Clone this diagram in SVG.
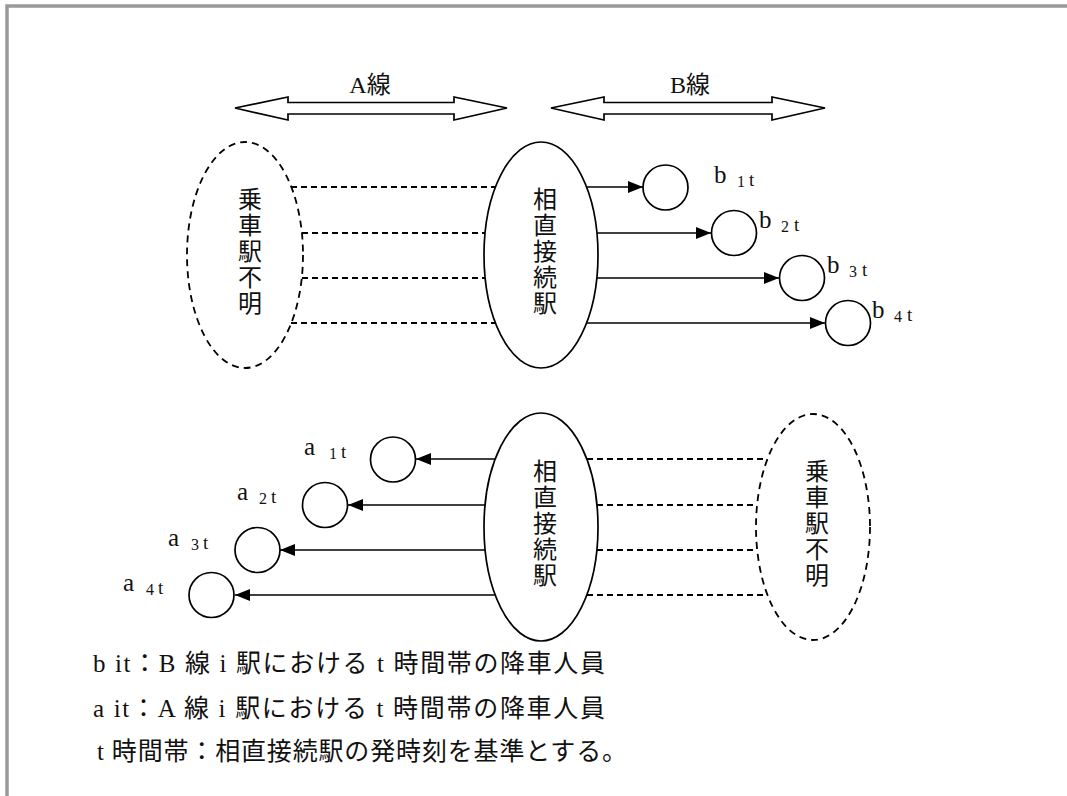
<svg xmlns="http://www.w3.org/2000/svg" width="1067" height="796" viewBox="0 0 1067 796">
<defs>
<style>
.bg{fill:#fff}
.frame{fill:none;stroke:#999;stroke-width:3.5}
.solid{fill:#fff;stroke:#000;stroke-width:1.7}
.dashell{fill:none;stroke:#000;stroke-width:1.8;stroke-dasharray:7,5}
.dash{stroke:#000;stroke-width:1.8;stroke-dasharray:6,4}
.arr{stroke:#000;stroke-width:1.7;fill:none}
.dbl{fill:#fff;stroke:#000;stroke-width:1.7;stroke-linejoin:miter}
.circ{fill:#fff;stroke:#000;stroke-width:1.7}
.jp{font-family:'Liberation Serif','Noto Sans CJK JP',serif;font-size:24px;fill:#111}
.lab{font-family:'Liberation Serif',serif;font-size:25px;fill:#111}
.sub{font-size:16px}
.tt{font-size:19px}
.leg{font-family:'Liberation Serif','Noto Sans CJK JP',serif;font-size:25px;fill:#111}
</style>
<marker id="ah" markerUnits="userSpaceOnUse" markerWidth="16" markerHeight="12" refX="15" refY="6" orient="auto">
<path d="M0,0 L15,6 L0,12 Z" fill="#000"/>
</marker>
</defs>
<rect class="bg" x="0" y="0" width="1067" height="796"/>
<path class="frame" d="M7,796 L7,6 L1067,6"/>

<g id="lineA">
<polygon class="dbl" points="235,108 288,97 288,102.5 454,102.5 454,97 507,108 454,120 454,114 288,114 288,120"/>
<text class="jp" x="370" y="93" text-anchor="middle">A線</text>
</g>
<g id="lineB">
<polygon class="dbl" points="551,108 604,97 604,102.5 772,102.5 772,97 825,108 772,120 772,114 604,114 604,120"/>
<text class="jp" x="690" y="93" text-anchor="middle">B線</text>
</g>

<g id="connectors">
<line class="dash" x1="291" y1="187" x2="496" y2="187"/>
<line class="dash" x1="302" y1="233" x2="485" y2="233"/>
<line class="dash" x1="302" y1="278" x2="485" y2="278"/>
<line class="dash" x1="291" y1="323" x2="496" y2="323"/>
<line class="arr" x1="586" y1="187" x2="643" y2="187" marker-end="url(#ah)"/>
<line class="arr" x1="597" y1="233" x2="711" y2="233" marker-end="url(#ah)"/>
<line class="arr" x1="597" y1="278" x2="779" y2="278" marker-end="url(#ah)"/>
<line class="arr" x1="586" y1="323" x2="825" y2="323" marker-end="url(#ah)"/>
<line class="dash" x1="587" y1="459" x2="767" y2="459"/>
<line class="dash" x1="597" y1="505" x2="757" y2="505"/>
<line class="dash" x1="597" y1="550" x2="757" y2="550"/>
<line class="dash" x1="587" y1="595" x2="767" y2="595"/>
<line class="arr" x1="495" y1="459" x2="416" y2="459" marker-end="url(#ah)"/>
<line class="arr" x1="485" y1="505" x2="348" y2="505" marker-end="url(#ah)"/>
<line class="arr" x1="485" y1="550" x2="280" y2="550" marker-end="url(#ah)"/>
<line class="arr" x1="495" y1="595" x2="235" y2="595" marker-end="url(#ah)"/>
</g>

<g id="unknownTop">
<ellipse class="dashell" cx="245" cy="255" rx="58" ry="113"/>
<text class="jp" text-anchor="middle"><tspan x="250" y="208">乗</tspan><tspan x="250" y="234">車</tspan><tspan x="250" y="260">駅</tspan><tspan x="250" y="286">不</tspan><tspan x="250" y="312">明</tspan></text>
</g>
<g id="stationTop">
<ellipse class="solid" cx="541" cy="255" rx="57" ry="113"/>
<text class="jp" text-anchor="middle"><tspan x="545" y="208">相</tspan><tspan x="545" y="234">直</tspan><tspan x="545" y="260">接</tspan><tspan x="545" y="286">続</tspan><tspan x="545" y="312">駅</tspan></text>
</g>

<g id="b1"><circle class="circ" cx="665.5" cy="187.5" r="22.5"/><text class="lab" x="714" y="183">b<tspan class="sub" x="737" y="187">1</tspan><tspan class="tt" x="749" y="185.5">t</tspan></text></g>
<g id="b2"><circle class="circ" cx="734" cy="233" r="22.5"/><text class="lab" x="759" y="228">b<tspan class="sub" x="781" y="232">2</tspan><tspan class="tt" x="794" y="230.5">t</tspan></text></g>
<g id="b3"><circle class="circ" cx="802" cy="278" r="22.5"/><text class="lab" x="827" y="273">b<tspan class="sub" x="849" y="277">3</tspan><tspan class="tt" x="862" y="275.5">t</tspan></text></g>
<g id="b4"><circle class="circ" cx="848" cy="323" r="22.5"/><text class="lab" x="872" y="318">b<tspan class="sub" x="894" y="322">4</tspan><tspan class="tt" x="907" y="320.5">t</tspan></text></g>

<g id="stationBottom">
<ellipse class="solid" cx="541" cy="527" rx="57" ry="114"/>
<text class="jp" text-anchor="middle"><tspan x="545" y="480">相</tspan><tspan x="545" y="506">直</tspan><tspan x="545" y="532">接</tspan><tspan x="545" y="558">続</tspan><tspan x="545" y="584">駅</tspan></text>
</g>
<g id="unknownBottom">
<ellipse class="dashell" cx="813" cy="527" rx="57" ry="113"/>
<text class="jp" text-anchor="middle"><tspan x="817" y="480">乗</tspan><tspan x="817" y="506">車</tspan><tspan x="817" y="532">駅</tspan><tspan x="817" y="558">不</tspan><tspan x="817" y="584">明</tspan></text>
</g>

<g id="a1"><circle class="circ" cx="393" cy="459.5" r="22.5"/><text class="lab" x="304" y="455">a<tspan class="sub" x="329" y="459">1</tspan><tspan class="tt" x="341" y="457.5">t</tspan></text></g>
<g id="a2"><circle class="circ" cx="325" cy="505" r="22.5"/><text class="lab" x="237" y="500">a<tspan class="sub" x="259" y="504">2</tspan><tspan class="tt" x="271" y="502.5">t</tspan></text></g>
<g id="a3"><circle class="circ" cx="257.5" cy="550" r="22.5"/><text class="lab" x="168" y="546">a<tspan class="sub" x="191" y="550">3</tspan><tspan class="tt" x="203" y="548.5">t</tspan></text></g>
<g id="a4"><circle class="circ" cx="211.5" cy="595" r="22.5"/><text class="lab" x="123" y="591">a<tspan class="sub" x="146" y="595">4</tspan><tspan class="tt" x="158" y="593.5">t</tspan></text></g>

<g id="legend">
<text class="leg" x="93" y="672" textLength="512" lengthAdjust="spacing">b it：B 線 i 駅における t 時間帯の降車人員</text>
<text class="leg" x="93" y="717" textLength="512" lengthAdjust="spacing">a it：A 線 i 駅における t 時間帯の降車人員</text>
<text class="leg" x="97" y="760" textLength="530" lengthAdjust="spacing">t 時間帯：相直接続駅の発時刻を基準とする。</text>
</g>
</svg>
